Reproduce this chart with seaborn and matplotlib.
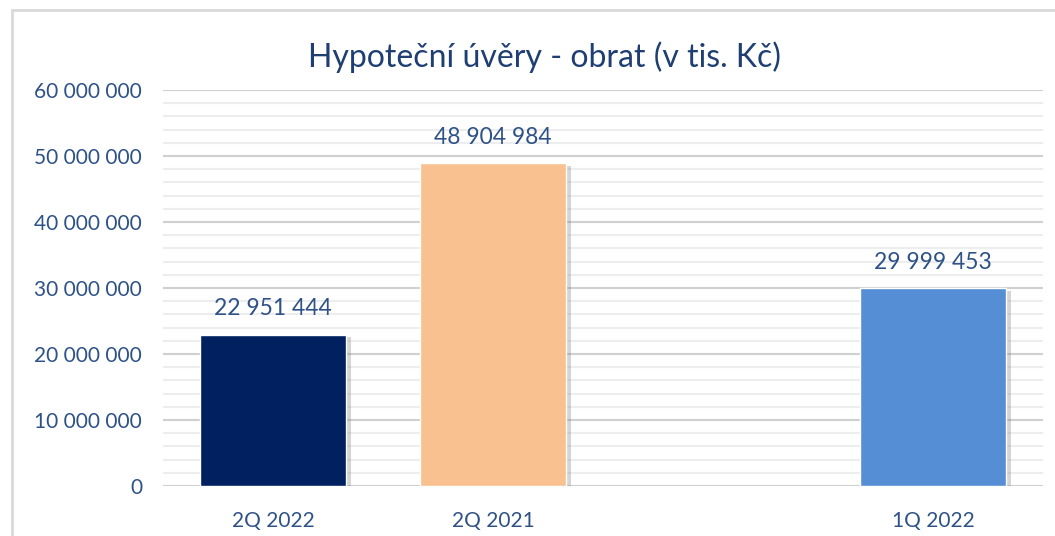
import numpy as np
import pandas as pd
import matplotlib.pyplot as plt
import matplotlib.patheffects as pe
from matplotlib.patches import Rectangle
from matplotlib.ticker import FuncFormatter, MultipleLocator
import seaborn as sns

# chart data
categories = ["2Q 2022", "2Q 2021", " ", "1Q 2022"]
values = [22951444, 48904984, np.nan, 29999453]
bar_colors = ["#002060", "#F8C18F", "#FFFFFF", "#558ED5"]

title = "Hypoteční úvěry - obrat (v tis. Kč)"
text_color = "#2E5288"

df = pd.DataFrame({"kvartal": categories, "obrat": values}).dropna()

sns.set_theme(style="white")
plt.rcParams["font.family"] = ["Lato", "DejaVu Sans"]

fig = plt.figure(figsize=(10.55, 5.36), dpi=100)
ax = fig.add_axes([163 / 1055, 1 - 486 / 536, 880 / 1055, 396 / 536])

sns.barplot(data=df, x="kvartal", y="obrat", hue="kvartal", order=categories,
            palette=dict(zip(categories, bar_colors)), width=0.66,
            legend=False, ax=ax, saturation=1)

# soft shadow on the right side of the bars
for p in ax.patches:
    p.set_path_effects([pe.SimplePatchShadow(offset=(4, -2), shadow_rgbFace="#777777", alpha=0.3),
                        pe.Normal()])

# value labels above bars
for cont in ax.containers:
    labels = [f"{v:,.0f}".replace(",", " ") if not np.isnan(v) else "" for v in cont.datavalues]
    ax.bar_label(cont, labels=labels, padding=11, fontsize=16.5, color=text_color)

ax.set_ylim(0, 60000000)
ax.set_xlim(-0.5, 3.5)
ax.yaxis.set_major_locator(MultipleLocator(10000000))
ax.yaxis.set_minor_locator(MultipleLocator(2000000))
ax.yaxis.set_major_formatter(FuncFormatter(lambda v, _: f"{v:,.0f}".replace(",", " ")))
ax.grid(axis="y", which="major", color="#D0D0D0", linewidth=1.5)
ax.grid(axis="y", which="minor", color="#EDEDED", linewidth=1.5)
ax.set_axisbelow(True)
for s in ax.spines.values():
    s.set_visible(False)
ax.tick_params(axis="y", which="both", length=0, pad=15, labelsize=15, labelcolor=text_color)
ax.tick_params(axis="x", length=0, pad=18, labelsize=15, labelcolor=text_color)
ax.set_xlabel("")
ax.set_ylabel("")

fig.text(544 / 1055, 1 - 57 / 536, title, ha="center", va="center", fontsize=23, color="#1F3F73")

# outer chart frame
fig.patches.append(Rectangle((12 / 1055, -0.1), 1.2, 1.1 - 10 / 536, transform=fig.transFigure,
                             fill=False, edgecolor="#D9D9D9", linewidth=2))

fig.savefig("out.png", dpi=100)
